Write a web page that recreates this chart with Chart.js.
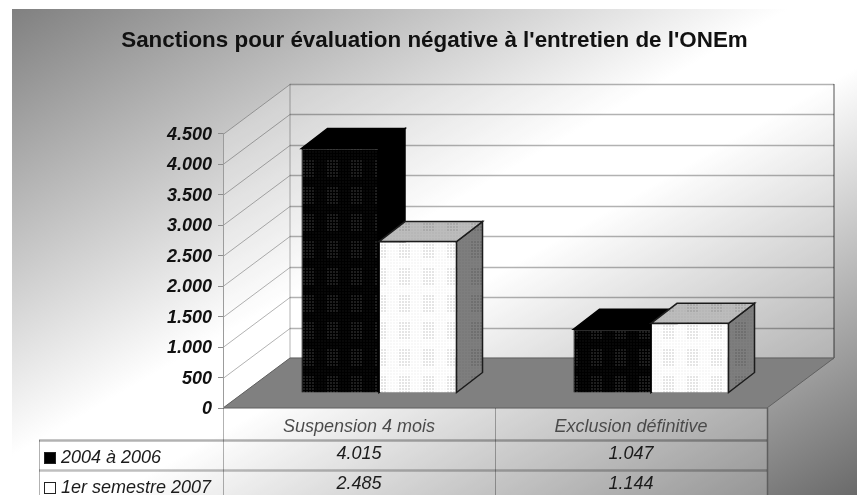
<!DOCTYPE html>
<html>
<head>
<meta charset="utf-8">
<title>Sanctions ONEm</title>
<style>
  html, body { margin: 0; background: #fff; overflow: hidden; }
  #graphe {
    position: absolute; left: 12px; top: 9px;
    background: linear-gradient(to bottom right, #808080 0%, #ffffff 46%, #ffffff 56%, #6a6a6a 100%);
    filter: blur(0.7px);
  }
</style>
</head>
<body>
<canvas id="graphe" width="845" height="486"></canvas>
<script src="https://cdn.jsdelivr.net/npm/chart.js@4"></script>
<script>
const categories = ['Suspension 4 mois', 'Exclusion définitive'];
const seriesNames = ['2004 à 2006', '1er semestre 2007'];
const values2006 = [4015, 1047];
const values2007 = [2485, 1144];
const yTicks = [0, 500, 1000, 1500, 2000, 2500, 3000, 3500, 4000, 4500];

// 3D offsets, in pixels
const wall = { dx: 67, dy: -50 };
const barShift = { dx: 20, dy: -15 };
const barDepth = { dx: 26, dy: -20 };

const milliers = v => String(v).replace(/\B(?=(\d{3})+$)/g, '.');

// small dotted tile, same look as the old office chart fills
function trame(base, dot) {
  const c = document.createElement('canvas');
  c.width = 24; c.height = 27;
  const g = c.getContext('2d');
  g.fillStyle = base;
  g.fillRect(0, 0, 24, 27);
  g.fillStyle = dot;
  for (let x = 1; x < 24; x += 3) {
    for (let y = 1; y < 27; y += 3) {
      const inCluster = x >= 6 && x <= 17 && y >= 4 && y <= 20;
      g.globalAlpha = inCluster ? 0.8 : 0.2;
      g.fillRect(x, y, 2, 2);
    }
  }
  return g.createPattern(c, 'repeat');
}

const fills = [
  { front: trame('#000000', '#262626'), top: '#000000', side: '#000000', edge: '#000000' },
  { front: trame('#ffffff', '#dedede'), top: trame('#bcbcbc', '#a4a4a4'), side: trame('#7e7e7e', '#6c6c6c'), edge: '#1c1c1c' }
];

function poly(ctx, pts, fill, stroke, lw) {
  ctx.beginPath();
  pts.forEach((p, i) => i ? ctx.lineTo(p[0], p[1]) : ctx.moveTo(p[0], p[1]));
  ctx.closePath();
  if (fill) { ctx.fillStyle = fill; ctx.fill(); }
  if (stroke) { ctx.strokeStyle = stroke; ctx.lineWidth = lw || 1; ctx.stroke(); }
}

function line(ctx, x1, y1, x2, y2, color, lw) {
  ctx.beginPath();
  ctx.moveTo(x1, y1);
  ctx.lineTo(x2, y2);
  ctx.strokeStyle = color;
  ctx.lineWidth = lw || 1;
  ctx.stroke();
}

const gridColor = 'rgba(0,0,0,0.3)';

// walls, grid and floor of the 3D box
const boite3d = {
  id: 'boite3d',
  beforeDraw(chart) {
    const { ctx, chartArea: a, scales } = chart;
    const d = wall;
    ctx.save();
    poly(ctx, [[a.left, a.bottom], [a.left + d.dx, a.bottom + d.dy], [a.right + d.dx, a.bottom + d.dy],
      [a.right + d.dx, a.top + d.dy], [a.left + d.dx, a.top + d.dy], [a.left, a.top]], 'rgba(255,255,255,0.22)');
    yTicks.forEach(v => {
      const y = Math.round(scales.y.getPixelForValue(v)) + 0.5;
      line(ctx, a.left, y, a.left + d.dx, y + d.dy, gridColor);
      line(ctx, a.left + d.dx, y + d.dy, a.right + d.dx, y + d.dy, gridColor, 1.5);
    });
    line(ctx, a.left + d.dx, a.top + d.dy, a.left + d.dx, a.bottom + d.dy, gridColor);
    line(ctx, a.right + d.dx, a.top + d.dy, a.right + d.dx, a.bottom + d.dy, 'rgba(0,0,0,0.45)', 1.5);
    poly(ctx, [[a.left, a.bottom], [a.right, a.bottom], [a.right + d.dx, a.bottom + d.dy], [a.left + d.dx, a.bottom + d.dy]],
      '#808080', '#606060');
    ctx.restore();
  },
  // own dataset loop: first series first, so the second one covers its side
  beforeDatasetsDraw(chart) {
    const ctx = chart.ctx;
    ctx.save();
    ctx.translate(barShift.dx, barShift.dy);
    [0, 1].forEach(i => {
      const meta = chart.getDatasetMeta(i);
      meta.data.forEach(bar => {
        const l = bar.x - bar.width / 2, r = bar.x + bar.width / 2;
        const t = bar.y, b = bar.base;
        const dx = barDepth.dx, dy = barDepth.dy;
        poly(ctx, [[r, t], [r + dx, t + dy], [r + dx, b + dy], [r, b]], fills[i].side, fills[i].edge, 1.5);
        poly(ctx, [[l, t], [r, t], [r + dx, t + dy], [l + dx, t + dy]], fills[i].top, fills[i].edge, 1.5);
      });
      meta.controller.draw();
    });
    ctx.restore();
    return false;
  },
  // data table under the floor
  afterDraw(chart) {
    const { ctx, chartArea: a, scales } = chart;
    const h = chart.height;
    const row1 = a.bottom + 32, row2 = a.bottom + 62;
    const gauche = 27, milieu = a.left + (a.right - a.left) / 2;
    ctx.save();
    ctx.fillStyle = 'rgba(255,255,255,0.2)';
    ctx.fillRect(a.left, a.bottom + 1, a.right - a.left, h - a.bottom);
    ctx.fillRect(gauche, row1, a.left - gauche, h - row1);
    line(ctx, a.left + 0.5, a.bottom, a.left + 0.5, h, gridColor);
    line(ctx, milieu + 0.5, a.bottom, milieu + 0.5, h, gridColor);
    line(ctx, a.right + 0.5, a.bottom, a.right + 0.5, h, '#5e5e5e', 1.5);
    line(ctx, gauche + 0.5, row1, gauche + 0.5, h, gridColor);
    line(ctx, gauche, row1 + 0.5, a.right, row1 + 0.5, gridColor, 2.5);
    line(ctx, gauche, row2 + 0.5, a.right, row2 + 0.5, 'rgba(0,0,0,0.25)', 2.5);

    ctx.font = 'italic 18px "Liberation Sans"';
    ctx.textBaseline = 'middle';
    ctx.fillStyle = '#1c1c1c';
    [values2006, values2007].forEach((vals, s) => {
      const top = s ? row2 : row1;
      ctx.textAlign = 'center';
      vals.forEach((v, i) => ctx.fillText(milliers(v), scales.x.getPixelForTick(i), top + 14));
      ctx.textAlign = 'left';
      ctx.fillText(seriesNames[s], 49, top + 18);
      ctx.strokeStyle = '#222';
      ctx.lineWidth = 1;
      ctx.fillStyle = s ? '#fff' : '#000';
      ctx.fillRect(32.5, top + 12.5, 11, 11);
      ctx.strokeRect(32.5, top + 12.5, 11, 11);
      ctx.fillStyle = '#1c1c1c';
    });
    ctx.restore();
  }
};

new Chart(document.getElementById('graphe'), {
  type: 'bar',
  data: {
    labels: categories,
    datasets: [
      { label: seriesNames[0], data: values2006, backgroundColor: fills[0].front, borderColor: '#000', borderWidth: 1 },
      { label: seriesNames[1], data: values2007, backgroundColor: fills[1].front, borderColor: '#1c1c1c', borderWidth: 1 }
    ]
  },
  options: {
    responsive: false,
    animation: false,
    categoryPercentage: 0.57,
    barPercentage: 1,
    layout: { padding: 0 },
    plugins: {
      legend: { display: false },
      tooltip: { enabled: false },
      title: {
        display: true,
        text: "Sanctions pour évaluation négative à l'entretien de l'ONEm",
        color: '#111',
        font: { family: '"Liberation Sans"', size: 22.4, weight: 'bold' },
        padding: { top: 18, bottom: 80 }
      }
    },
    scales: {
      x: {
        grid: { display: false, drawTicks: false },
        border: { display: false },
        ticks: { color: '#1c1c1c', padding: 8, font: { family: '"Liberation Sans"', size: 18, style: 'italic' } },
        afterFit(s) { s.height = 87; }
      },
      y: {
        min: 0,
        max: 4500,
        afterBuildTicks(s) { s.ticks = yTicks.map(v => ({ value: v })); },
        grid: { drawOnChartArea: false, tickLength: 5, color: '#8c8c8c' },
        border: { color: '#9c9c9c' },
        ticks: {
          color: '#111',
          padding: 6,
          labelOffset: 1,
          font: { family: '"Liberation Sans"', size: 18, style: 'italic', weight: 'bold' },
          callback: v => milliers(v)
        },
        afterFit(s) { s.width = 211; }
      },
      // empty axis, only keeps the room on the right of the plot
      marge: {
        position: 'right',
        grid: { display: false },
        border: { display: false },
        ticks: { display: false },
        afterFit(s) { s.width = 90; }
      }
    }
  },
  plugins: [boite3d]
});
</script>
</body>
</html>
